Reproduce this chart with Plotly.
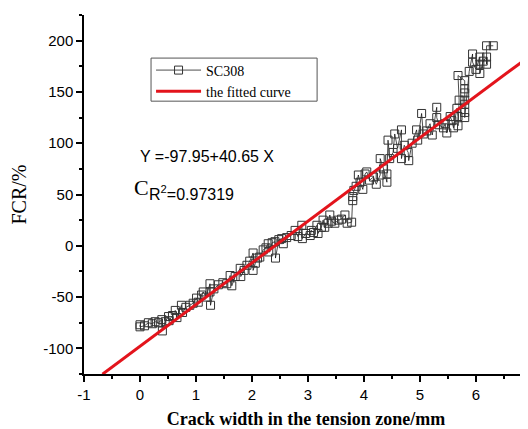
import plotly.graph_objects as go

# Measured data (SC308)
crack_width = [0.00, 0.00, 0.08, 0.15, 0.22, 0.27, 0.33, 0.39, 0.40, 0.45, 0.51, 0.52, 0.58, 0.63, 0.66,
               0.74, 0.76, 0.82, 0.89, 0.95, 1.01, 1.04, 1.10, 1.13, 1.18, 1.25, 1.25, 1.26, 1.32, 1.40,
               1.48, 1.55, 1.61, 1.64, 1.70, 1.79, 1.80, 1.86, 1.91, 1.96, 2.02, 2.02, 2.06, 2.10, 2.14,
               2.20, 2.25, 2.29, 2.30, 2.36, 2.41, 2.42, 2.48, 2.53, 2.56, 2.62, 2.70, 2.77, 2.82, 2.89,
               2.90, 2.96, 3.04, 3.06, 3.10, 3.16, 3.18, 3.24, 3.27, 3.30, 3.36, 3.39, 3.42, 3.48, 3.54,
               3.60, 3.66, 3.70, 3.78, 3.80, 3.80, 3.82, 3.86, 3.90, 3.93, 3.98, 4.02, 4.05, 4.10, 4.17,
               4.22, 4.29, 4.29, 4.35, 4.41, 4.41, 4.43, 4.46, 4.52, 4.55, 4.60, 4.67, 4.67, 4.72, 4.79,
               4.80, 4.86, 4.94, 4.96, 5.03, 5.06, 5.12, 5.18, 5.22, 5.30, 5.30, 5.34, 5.42, 5.45, 5.48,
               5.54, 5.57, 5.60, 5.66, 5.68, 5.68, 5.70, 5.68, 5.80, 5.80, 5.80, 5.80, 5.80, 5.80, 5.80,
               5.88, 5.94, 5.94, 6.00, 6.07, 6.07, 6.07, 6.13, 6.19, 6.19, 6.19, 6.31]
fcr = [-77, -79, -78, -75, -76, -74, -75, -72, -83, -74, -69, -73, -68, -63, -70,
       -58, -65, -60, -58, -56, -51, -55, -48, -45, -50, -37, -45, -58, -42, -38,
       -36, -37, -29, -39, -30, -22, -30, -24, -19, -15, -7, -24, -17, -12, -11,
       -4, -2, 2, -6, 3, 4, -12, 6, 7, 2, 8, 10, 15, 9, 20,
       7, 12, 10, 15, 13, 20, 12, 18, 25, 18, 22, 30, 24, 22, 25,
       26, 30, 22, 23, 44, 48, 54, 58, 69, 62, 55, 70, 72, 64, 67,
       60, 69, 85, 75, 62, 70, 103, 85, 91, 109, 95, 113, 85, 98, 91,
       83, 100, 113, 103, 129, 109, 112, 119, 108, 135, 125, 118, 115, 119, 110,
       126, 122, 115, 134, 126, 117, 142, 166, 161, 153, 149, 142, 138, 130, 125,
       170, 187, 179, 172, 184, 177, 168, 180, 184, 177, 195, 195]

# Fitted curve Y = -97.95 + 40.65 X (end points)
fit_x = [-0.67, 7.0]
fit_y = [-125.2, 186.6]

x_ticks = [-1, 0, 1, 2, 3, 4, 5, 6, 7]
y_ticks = [-100, -50, 0, 50, 100, 150, 200]

serif = "Liberation Serif, Times New Roman, serif"
sans = "Liberation Sans, Arial, sans-serif"

fig = go.Figure()
fig.add_trace(go.Scatter(
    x=crack_width, y=fcr, mode="lines+markers", name="SC308",
    line=dict(color="black", width=0.7),
    marker=dict(symbol="square-open", size=8, color="#333333", line=dict(width=1)),
))
fig.add_trace(go.Scatter(
    x=fit_x, y=fit_y, mode="lines", name="the fitted curve",
    line=dict(color="#e3141c", width=3),
))

axis_common = dict(
    showline=True, linecolor="black", linewidth=1.5, mirror=False,
    ticks="outside", ticklen=6, tickwidth=1.5, tickcolor="black",
    showgrid=False, zeroline=False, automargin=False,
    tickfont=dict(family=sans, size=15, color="black"),
)

fig.update_xaxes(
    range=[-1, 6.93], tickvals=x_ticks, ticktext=[str(v) for v in x_ticks],
    minor=dict(ticks="outside", ticklen=3, tickwidth=1.5, tickcolor="black", dtick=0.5, tick0=-1, showgrid=False),
    title=dict(text="<b>Crack width in the tension zone/mm</b>",
               font=dict(family=serif, size=18, color="black"), standoff=14),
    **axis_common,
)
fig.update_yaxes(
    range=[-125, 225], tickvals=y_ticks, ticktext=[str(v) for v in y_ticks],
    minor=dict(ticks="outside", ticklen=3, tickwidth=1.5, tickcolor="black", dtick=25, tick0=0, showgrid=False),
    title=dict(text="FCR/%", font=dict(family=serif, size=20, color="black"), standoff=13),
    **axis_common,
)

fig.add_annotation(x=-0.04, y=87, xref="x", yref="y", text="Y =-97.95+40.65 X",
                   showarrow=False, xanchor="left", yanchor="middle",
                   font=dict(family=sans, size=16, color="black"))
fig.add_annotation(x=-0.14, y=57, xref="x", yref="y", text="C",
                   showarrow=False, xanchor="left", yanchor="middle",
                   font=dict(family=serif, size=22, color="black"))
fig.add_annotation(x=0.13, y=51, xref="x", yref="y", text="R<sup>2</sup>=0.97319",
                   showarrow=False, xanchor="left", yanchor="middle",
                   font=dict(family=sans, size=16, color="black"))

# legend frame
fig.add_shape(type="rect", xref="paper", yref="paper",
              x0=0.151, x1=0.525, y0=0.760, y1=0.880,
              line=dict(color="#555555", width=1), fillcolor="rgba(0,0,0,0)", layer="above")

fig.update_layout(
    width=520, height=421,
    margin=dict(l=76, r=0, t=7, b=55),
    paper_bgcolor="white", plot_bgcolor="white",
    showlegend=True,
    legend=dict(x=0.151, y=0.89, xanchor="left", yanchor="top",
                bgcolor="rgba(0,0,0,0)", borderwidth=0,
                font=dict(family=serif, size=14, color="black"),
                tracegroupgap=0, itemwidth=45),
)

fig.write_html("out.html")
